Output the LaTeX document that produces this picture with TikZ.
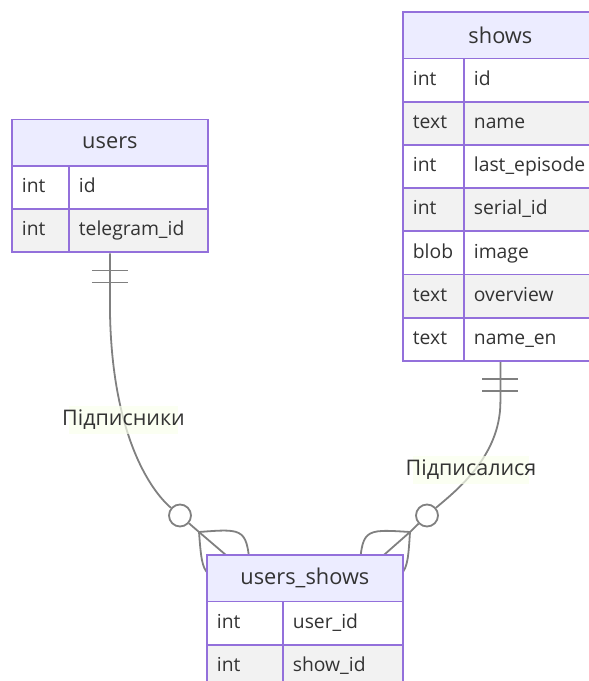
\documentclass[tikz,border=0pt]{standalone}
\usepackage{fontspec}
\setmainfont{Open Sans}
\usetikzlibrary{fit,backgrounds}

\definecolor{erborder}{HTML}{9370DB}
\definecolor{erhead}{HTML}{ECECFF}
\definecolor{erodd}{HTML}{FFFFFF}
\definecolor{ereven}{HTML}{F2F2F2}
\definecolor{erline}{HTML}{808080}
\definecolor{ertext}{HTML}{333333}
\definecolor{erlabel}{HTML}{F9FFEC}

\tikzset{
  hdr/.style={draw=erborder, fill=erhead, line width=1.8pt, inner sep=0pt,
    minimum height=46.5pt, anchor=north west, text=ertext,
    font=\fontsize{21.8}{24}\selectfont},
  cell/.style={draw=erborder, line width=1.8pt, inner xsep=10pt, inner ysep=0pt,
    minimum height=43.2pt, anchor=north west, align=left, text=ertext,
    text height=15pt, text depth=4.5pt, font=\fontsize{19.3}{22}\selectfont},
  oddrow/.style={cell, fill=erodd},
  evenrow/.style={cell, fill=ereven},
  tablebox/.style={inner sep=0pt},
  conn/.style={draw=erline, line width=1.8pt},
  optcircle/.style={circle, draw=erline, line width=1.8pt, fill=white,
    minimum size=22pt, inner sep=0pt},
  rellabel/.style={fill=erlabel, fill opacity=0.7, text opacity=1, text=ertext,
    inner xsep=-7pt, inner ysep=4pt, font=\fontsize{21.5}{24}\selectfont}
}

\begin{document}
\begin{tikzpicture}[x=1pt, y=-1pt]
\useasboundingbox (0,0) rectangle (589,681);
\clip (0,0) rectangle (589,681);

% ---------- users ----------
\node[hdr, minimum width=196pt] (users-h) at (11,118.5) {users};
\node[oddrow,  text width=37pt]  (users-1t) at (11,165)    {int};
\node[oddrow,  text width=119pt] (users-1n) at (68,165)    {id};
\node[evenrow, text width=37pt]  (users-2t) at (11,208.2)  {int};
\node[evenrow, text width=119pt] (users-2n) at (68,208.2)  {telegram\_id};
\node[tablebox, fit=(users-h)(users-2t)(users-2n)] (users) {};

% ---------- shows ----------
\node[hdr, minimum width=195pt] (shows-h) at (402,11) {shows};
\node[oddrow,  text width=41pt]  (shows-1t) at (402,57.5)  {int};
\node[oddrow,  text width=114pt] (shows-1n) at (463,57.5)  {id};
\node[evenrow, text width=41pt]  (shows-2t) at (402,100.7) {text};
\node[evenrow, text width=114pt] (shows-2n) at (463,100.7) {name};
\node[oddrow,  text width=41pt]  (shows-3t) at (402,143.9) {int};
\node[oddrow,  text width=114pt] (shows-3n) at (463,143.9) {last\_episode};
\node[evenrow, text width=41pt]  (shows-4t) at (402,187.1) {int};
\node[evenrow, text width=114pt] (shows-4n) at (463,187.1) {serial\_id};
\node[oddrow,  text width=41pt]  (shows-5t) at (402,230.3) {blob};
\node[oddrow,  text width=114pt] (shows-5n) at (463,230.3) {image};
\node[evenrow, text width=41pt]  (shows-6t) at (402,273.5) {text};
\node[evenrow, text width=114pt] (shows-6n) at (463,273.5) {overview};
\node[oddrow,  text width=41pt]  (shows-7t) at (402,316.7) {text};
\node[oddrow,  text width=114pt] (shows-7n) at (463,316.7) {name\_en};
\node[tablebox, fit=(shows-h)(shows-7t)(shows-7n)] (shows) {};

% ---------- users_shows ----------
\node[hdr, minimum width=196pt] (us-h) at (206,554) {users\_shows};
\node[oddrow,  text width=56pt]  (us-1t) at (206,600.5) {int};
\node[oddrow,  text width=100pt] (us-1n) at (282,600.5) {user\_id};
\node[evenrow, text width=56pt]  (us-2t) at (206,643.7) {int};
\node[evenrow, text width=100pt] (us-2n) at (282,643.7) {show\_id};

% ---------- relationships (behind the tables) ----------
\begin{scope}[on background layer]
  % users ||--o{ users_shows
  \coordinate (lp) at (199,532);
  \coordinate (lf) at (250.7,576.2);
  \node[optcircle] (lc) at (180,515.5) {};
  \draw[conn] (users.south) -- ++(0,48.6)
    .. controls +(0,130) and (150,490) .. (lc);
  \draw[conn] (lc) -- (lp);
  \draw[conn] (lp) -- (lf);
  \draw[conn] (lp) .. controls (202.7,579.9) .. (lf);
  \draw[conn] (lp) .. controls (246.9,528.3) .. (lf);
  \draw[conn] ([xshift=-18pt,yshift=-17pt]users.south) -- ++(36,0);
  \draw[conn] ([xshift=-18pt,yshift=-29pt]users.south) -- ++(36,0);

  % shows ||--o{ users_shows
  \coordinate (rp) at (410,532);
  \coordinate (rf) at (359,576.9);
  \node[optcircle] (rc) at (427,515.5) {};
  \draw[conn] (shows.south) -- ++(0,40)
    .. controls +(0,55) and (455,491.5) .. (rc);
  \draw[conn] (rc) -- (rp);
  \draw[conn] (rp) -- (rf);
  \draw[conn] (rp) .. controls (406.9,579.9) .. (rf);
  \draw[conn] (rp) .. controls (362.1,528.9) .. (rf);
  \draw[conn] ([xshift=-18pt,yshift=-17pt]shows.south) -- ++(36,0);
  \draw[conn] ([xshift=-18pt,yshift=-29pt]shows.south) -- ++(36,0);
\end{scope}

% ---------- relationship labels ----------
\node[rellabel] (subscribers) at (123.5,420) {Підписники};
\node[rellabel] (subscribed) at (471,470) {Підписалися};
\end{tikzpicture}
\end{document}
